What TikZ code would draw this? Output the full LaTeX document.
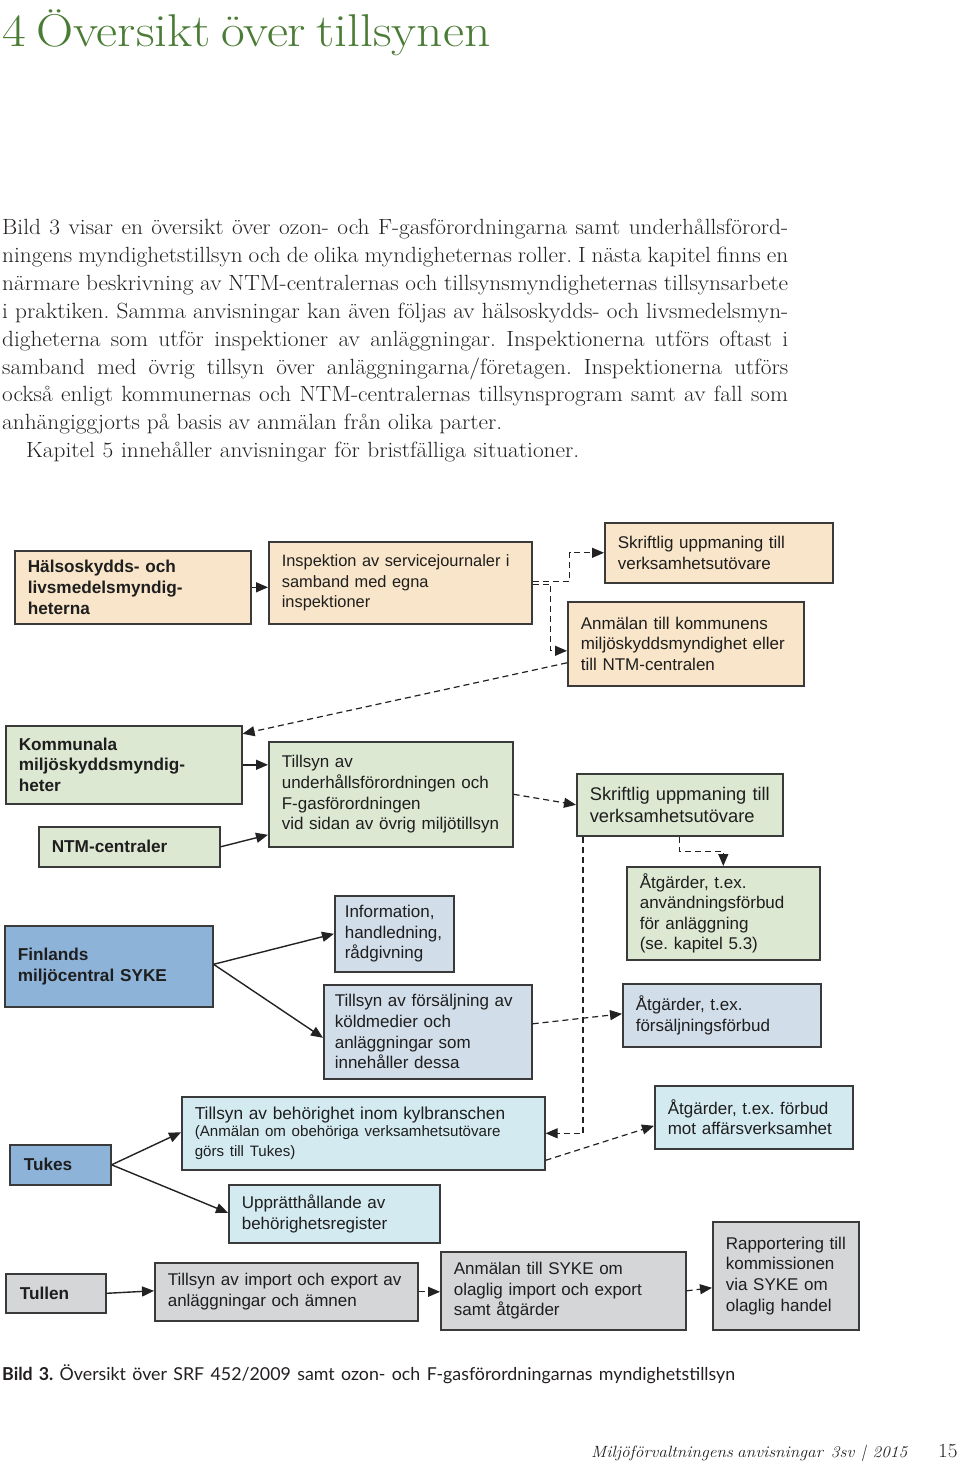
\documentclass[tikz,border=0pt]{standalone}
\usepackage{fontspec}
\setmainfont{Latin Modern Roman}[FakeStretch=1.06]
\newfontfamily\titlefont{Latin Modern Roman}[FakeStretch=1.12]
\newfontfamily\arial{Liberation Sans}
\newfontfamily\capfont{Lato}
\usetikzlibrary{arrows.meta}
\definecolor{peach}{HTML}{F9E5C9}
\definecolor{lgreen}{HTML}{DDE8D3}
\definecolor{mblue}{HTML}{8DB3D9}
\definecolor{gblue}{HTML}{D1DDE9}
\definecolor{lcyan}{HTML}{D4EAF1}
\definecolor{lgrey}{HTML}{D4D6D7}
\definecolor{bordc}{HTML}{3A3A3A}
\definecolor{linec}{HTML}{222222}
\definecolor{txtc}{HTML}{1E1E1E}
\definecolor{bodyc}{HTML}{231F20}
\definecolor{titlec}{HTML}{4A7C35}
\begin{document}
\frenchspacing
\begin{tikzpicture}[x=1pt,y=-1pt,
  box/.style={draw=bordc, line width=1.6pt, anchor=north west, inner xsep=13pt, inner ysep=0pt,
    align=left, text=txtc, font=\arial\fontsize{17}{20.6}\selectfont,
    execute at begin node={\rightskip=0pt plus 1fil minus 14pt\linepenalty=3000 }},
  bbox/.style={box, font=\arial\bfseries\fontsize{17.2}{20.8}\selectfont},
  wh/.code 2 args={\pgfmathsetmacro\tw{#1-26}\edef\next{\noexpand\pgfkeysalso{minimum width=#1pt,minimum height=#2pt,text width=\tw pt}}\next},
  arr/.style={-{Triangle[length=12pt,width=10pt]}, line width=1.4pt, draw=linec},
  darr/.style={arr, line width=1.2pt, dash pattern=on 6pt off 4pt},
  bodyline/.style={anchor=base west, inner sep=0pt, text=bodyc, font=\fontsize{22}{28}\selectfont}]
\useasboundingbox[fill=white] (0,0) rectangle (960,1464);

% title
\node[anchor=base west, inner sep=0pt, text=titlec, font=\titlefont\fontsize{46}{50}\selectfont] (title) at (2,47) {\makebox[486pt][s]{4 Översikt över tillsynen}};

% body text
\node[bodyline] (l1) at (2,234) {\makebox[786pt][s]{Bild 3 visar en översikt över ozon- och F-gasförordningarna samt underhållsförord-}};
\node[bodyline] (l2) at (2,262) {\makebox[786pt][s]{ningens myndighetstillsyn och de olika myndigheternas roller. I nästa kapitel finns en}};
\node[bodyline] (l3) at (2,290) {\makebox[786pt][s]{närmare beskrivning av NTM-centralernas och tillsynsmyndigheternas tillsynsarbete}};
\node[bodyline] (l4) at (2,318) {\makebox[786pt][s]{i praktiken. Samma anvisningar kan även följas av hälsoskydds- och livsmedelsmyn-}};
\node[bodyline] (l5) at (2,346) {\makebox[786pt][s]{digheterna som utför inspektioner av anläggningar. Inspektionerna utförs oftast i}};
\node[bodyline] (l6) at (2,374) {\makebox[786pt][s]{samband med övrig tillsyn över anläggningarna/företagen. Inspektionerna utförs}};
\node[bodyline] (l7) at (2,401) {\makebox[786pt][s]{också enligt kommunernas och NTM-centralernas tillsynsprogram samt av fall som}};
\node[bodyline] (l8) at (2,429) {\makebox[500pt][s]{anhängiggjorts på basis av anmälan från olika parter.}};
\node[bodyline] (l9) at (26,457) {\makebox[553pt][s]{Kapitel 5 innehåller anvisningar för bristfälliga situationer.}};

% boxes
\node[bbox, fill=peach, wh={236}{73}] (hals) at (14,550) {Hälsoskydds- och\\livsmedelsmyndig-\\heterna};
\node[box, fill=peach, wh={263}{82}, font=\arial\fontsize{16.4}{20.8}\selectfont] (insp) at (268,541) {Inspektion av servicejournaler i\\samband med egna\\inspektioner};
\node[box, fill=peach, wh={228}{60}] (skr1) at (604,522) {Skriftlig uppmaning till\\verksamhetsutövare};
\node[box, fill=peach, wh={236}{84}] (anm1) at (567,601) {Anmälan till kommunens\\miljöskyddsmyndighet eller\\till NTM-centralen};

\node[bbox, fill=lgreen, wh={236}{78}] (komm) at (5,725) {Kommunala\\miljöskyddsmyndig-\\heter};
\node[bbox, fill=lgreen, wh={181}{40}] (ntm) at (38,826) {NTM-centraler};
\node[box, fill=lgreen, wh={244}{105}] (till1) at (268,741) {Tillsyn av\\underhållsförordningen och\\F-gasförordningen\\vid sidan av övrig miljötillsyn};
\node[box, fill=lgreen, wh={206}{62}, font=\arial\fontsize{18.3}{22}\selectfont] (skr2) at (576,773) {Skriftlig uppmaning till\\verksamhetsutövare};
\node[box, fill=lgreen, wh={193}{93}] (atg1) at (626,866) {Åtgärder, t.ex.\\användningsförbud\\för anläggning\\(se. kapitel 5.3)};

\node[bbox, fill=mblue, wh={208}{81}] (fin) at (4,925) {Finlands\\miljöcentral SYKE};
\node[box, fill=gblue, minimum width=119pt, minimum height=76pt, inner xsep=10pt, text width=99pt] (info) at (334,895) {Information,\\handledning,\\rådgivning};
\node[box, fill=gblue, minimum width=208pt, minimum height=94pt, inner xsep=11pt, text width=186pt] (fors) at (323,984) {Tillsyn av försäljning av\\köldmedier och\\anläggningar som\\innehåller dessa};
\node[box, fill=gblue, wh={198}{63}] (atg2) at (622,983) {Åtgärder, t.ex.\\försäljningsförbud};

\node[box, fill=lcyan, wh={363}{73}] (kyl) at (181,1096) {{\fontsize{17.3}{18}\selectfont Tillsyn av behörighet inom kylbranschen\par}\fontsize{15.1}{17.2}\selectfont (Anmälan om obehöriga verksamhetsutövare\\görs till Tukes)};
\node[box, fill=lcyan, wh={198}{63}] (atg3) at (654,1085) {Åtgärder, t.ex. förbud\\mot affärsverksamhet};
\node[bbox, fill=mblue, minimum width=101pt, minimum height=40pt, inner xsep=14pt, text width=73pt] (tukes) at (9,1144) {Tukes};
\node[box, fill=lcyan, wh={211}{58}] (upp) at (228,1184) {Upprätthållande av\\behörighetsregister};

\node[bbox, fill=lgrey, minimum width=100pt, minimum height=39pt, inner xsep=14pt, text width=72pt] (tullen) at (5,1273) {Tullen};
\node[box, fill=lgrey, wh={263}{58}] (imp) at (154,1262) {Tillsyn av import och export av\\anläggningar och ämnen};
\node[box, fill=lgrey, wh={245}{78}] (syke) at (440,1251) {Anmälan till SYKE om\\olaglig import och export\\samt åtgärder};
\node[box, fill=lgrey, wh={146}{108}] (rap) at (712,1221) {Rapportering till\\kommissionen\\via SYKE om\\olaglig handel};

% connectors
\draw[arr] (hals.east) -- (insp.west |- hals.east);
\draw[darr] ([yshift=1.5pt]insp.east) -- ++(37,0) |- (skr1.west);
\draw[darr] ([yshift=-1.5pt]insp.east) -- ++(18,0) |- ([yshift=-7pt]anm1.west);
\draw[darr] ([yshift=-19pt]anm1.west) -- ([yshift=31pt]komm.east);
\draw[arr] (komm.east) -- (till1.west |- komm.east);
\draw[arr] (ntm.east) -- ([yshift=-40.5pt]till1.west);
\draw[darr] (till1.east) -- (skr2.west);
\draw[darr] (skr2.south) -- ++(0,15) -| (atg1.north);
\draw[darr] ([xshift=7pt]skr2.south west) |- (kyl.east);
\draw[arr] ([yshift=2pt]fin.east) -- (info.west);
\draw[arr] ([yshift=2pt]fin.east) -- ([yshift=-6pt]fors.west);
\draw[darr] ([yshift=8pt]fors.east) -- ([yshift=1.5pt]atg2.west);
\draw[darr] ([yshift=-27pt]kyl.east) -- ([yshift=-8.5pt]atg3.west);
\draw[arr] (tukes.east) -- ([yshift=1pt]kyl.west);
\draw[arr] (tukes.east) -- ([yshift=1pt]upp.west);
\draw[arr] (tullen.east) -- ([yshift=1pt]imp.west);
\draw[darr] (imp.east) -- (syke.west |- imp.east);
\draw[darr] (syke.east) -- ([yshift=-12pt]rap.west);

% caption and footer
\node[anchor=base west, inner sep=0pt, text=bodyc, font=\capfont\fontsize{17.8}{20}\selectfont] (cap) at (2,1380) {\makebox[733pt][s]{\textbf{Bild 3.} Översikt över SRF 452/2009 samt ozon- och F-gasförordningarnas myndighetstillsyn}};
\node[anchor=base west, inner sep=0pt, text=bodyc, font=\itshape\fontsize{16.3}{20}\selectfont] (foot) at (591,1457) {\makebox[312pt][s]{Miljöförvaltningens anvisningar\ \ 3sv \,|\, 2015}};
\node[anchor=base west, inner sep=0pt, text=bodyc, font=\fontsize{20}{22}\selectfont] (pg) at (938,1457) {15};
\end{tikzpicture}
\end{document}
